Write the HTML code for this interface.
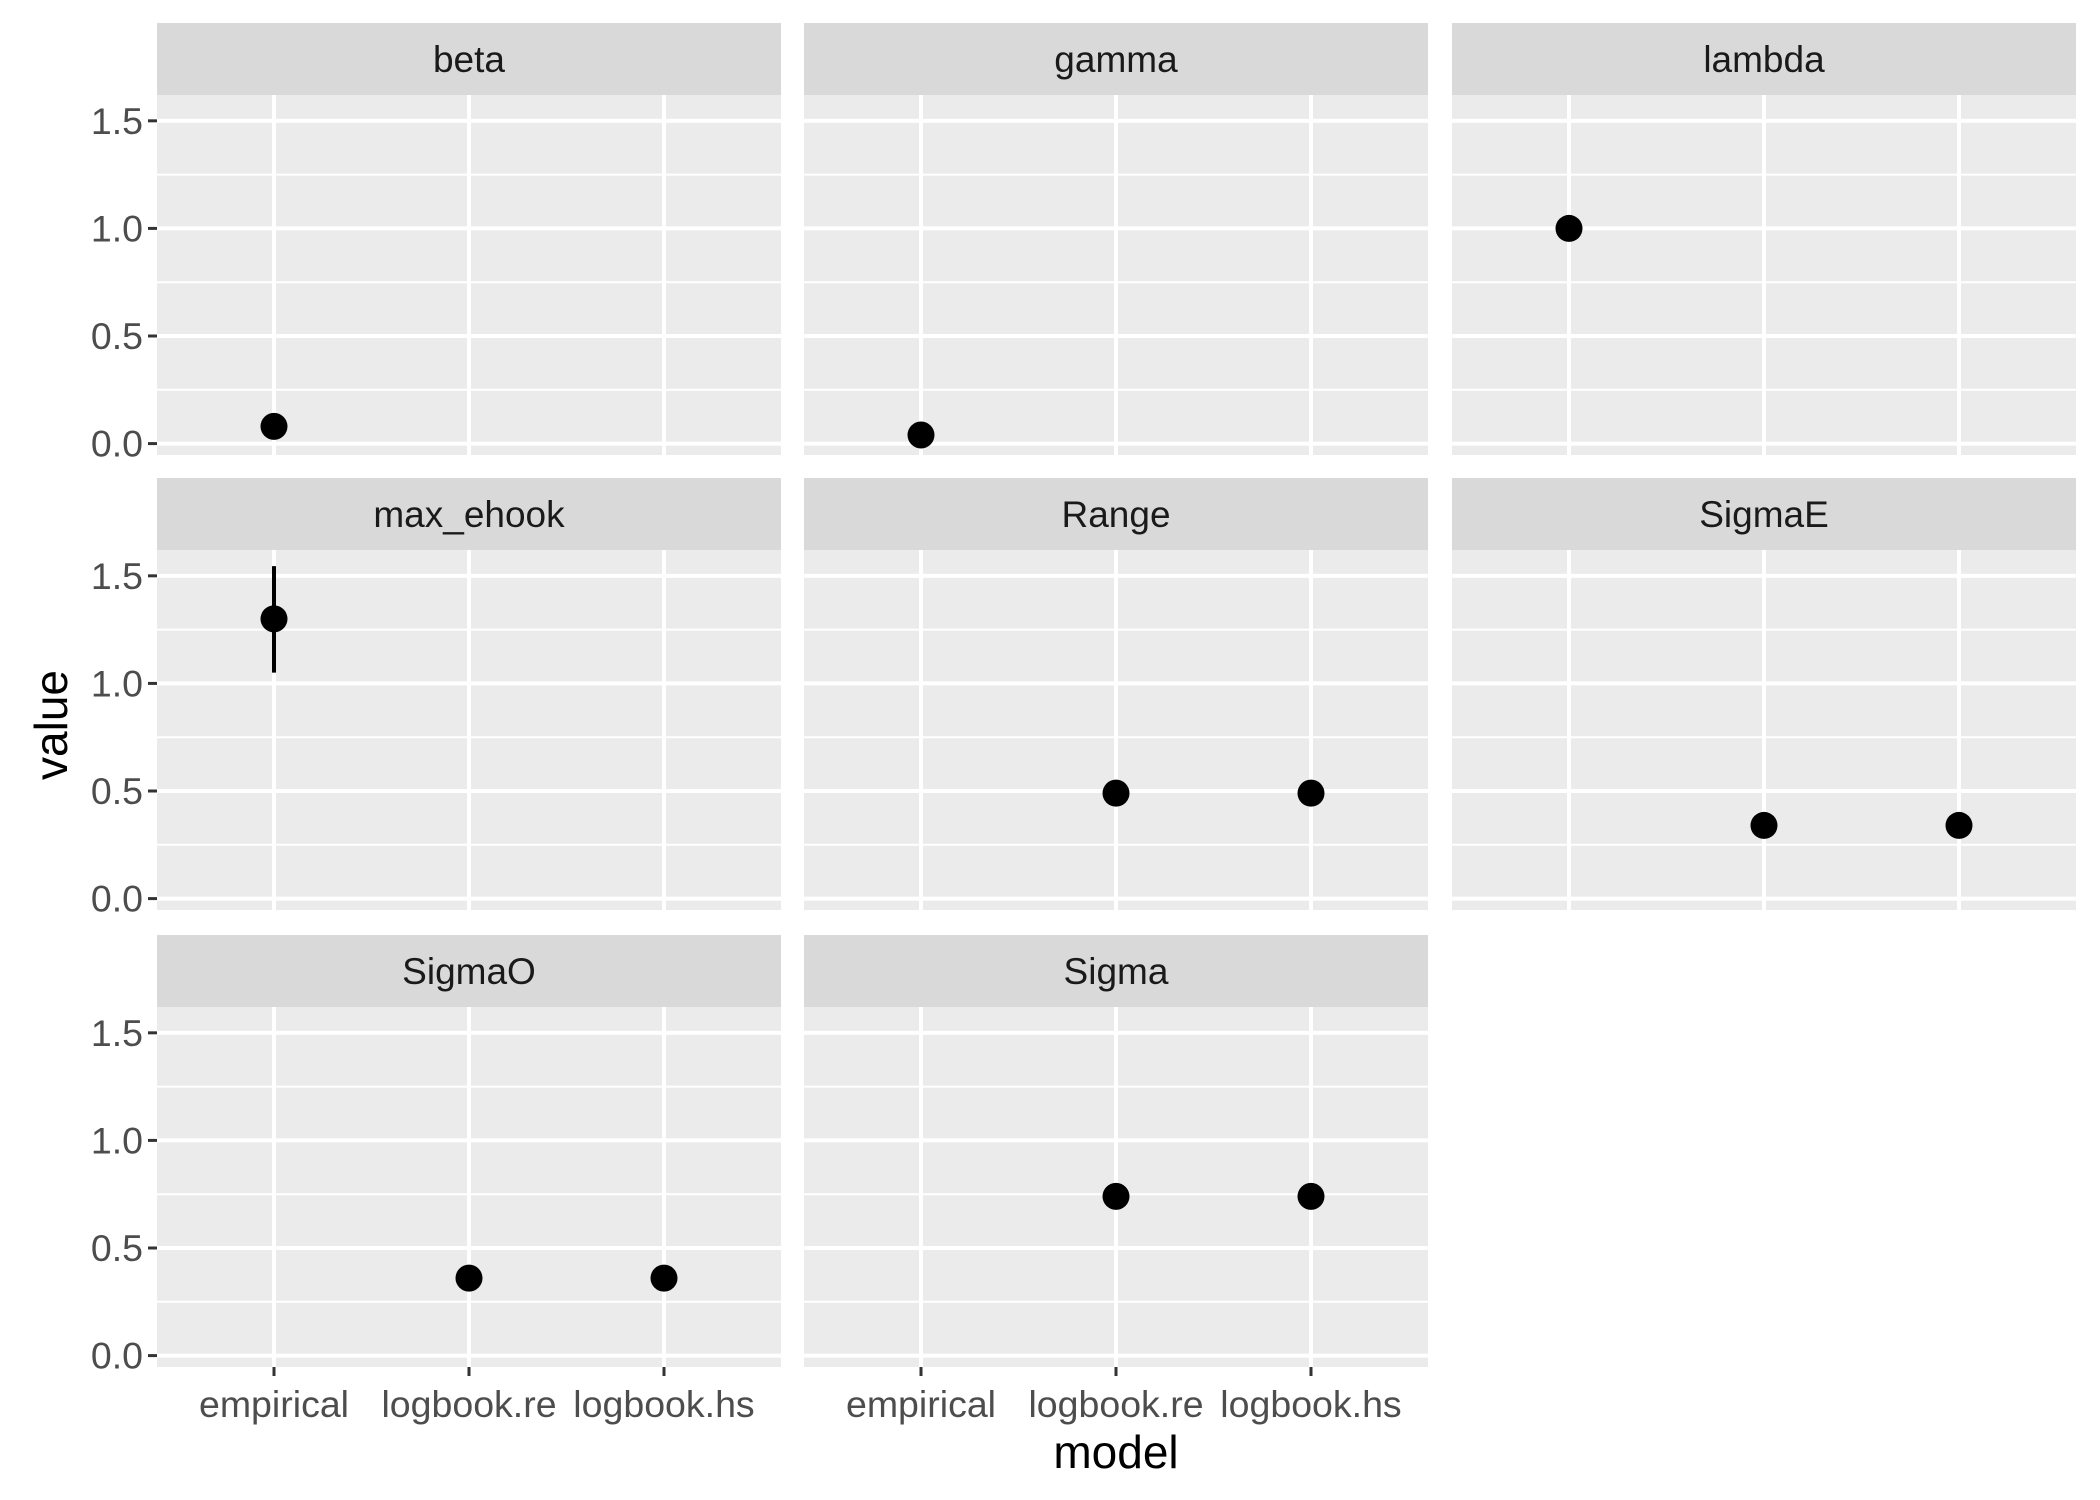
<!DOCTYPE html>
<html><head><meta charset="utf-8"><style>
html,body{margin:0;padding:0;background:#fff;}
svg{display:block;font-family:"Liberation Sans",Arial,sans-serif;}
</style></head><body>
<svg id="chart" width="2100" height="1500" viewBox="0 0 2100 1500" xmlns="http://www.w3.org/2000/svg"></svg>
<script>
const facets = ["beta","gamma","lambda","max_ehook","Range","SigmaE","SigmaO","Sigma"];
const categories = ["empirical","logbook.re","logbook.hs"];
const pointFacet = ["beta","gamma","lambda","max_ehook","Range","Range","SigmaE","SigmaE","SigmaO","SigmaO","Sigma","Sigma"];
const pointModel = ["empirical","empirical","empirical","empirical","logbook.re","logbook.hs","logbook.re","logbook.hs","logbook.re","logbook.hs","logbook.re","logbook.hs"];
const pointValue = [0.08,0.04,1.0,1.30,0.49,0.49,0.34,0.34,0.36,0.36,0.74,0.74];
const errFacet = ["max_ehook"];
const errModel = ["empirical"];
const errLow = [1.05];
const errHigh = [1.545];
const yTicks = [0,0.5,1.0,1.5];
const yTickLabels = ["0.0","0.5","1.0","1.5"];

const NS="http://www.w3.org/2000/svg";
const svg=document.getElementById('chart');
function mk(tag,attrs,parent){const e=document.createElementNS(NS,tag);for(const k in attrs)e.setAttribute(k,attrs[k]);(parent||svg).appendChild(e);return e;}
const colX=[157,804,1452], panelW=624;
const rowTop=[23,478,935], stripH=72, bodyH=360;
const yMin=-0.053, yMax=1.62;
function yScale(v,row){const top=rowTop[row]+stripH;return top+bodyH-(v-yMin)/(yMax-yMin)*bodyH;}
function xScale(cat,col){const i=categories.indexOf(cat);const step=panelW/3.2;return colX[col]+step*(0.6+i);}
function pos(f){const i=facets.indexOf(f);return {row:Math.floor(i/3),col:i%3};}

facets.forEach((f,i)=>{
  const {row,col}=pos(f);
  const g=mk('g',{});
  
  
  const x0=colX[col], top=rowTop[row]+stripH;
  const strip=mk('rect',{x:x0,y:rowTop[row],width:panelW,height:stripH,fill:'#D9D9D9'},g);
  
  
  const st=mk('text',{x:x0+panelW/2,y:rowTop[row]+stripH/2+13,'text-anchor':'middle','font-size':37,fill:'#1A1A1A'},g);
  st.textContent=f;
  
  
  const bg=mk('rect',{x:x0,y:top,width:panelW,height:bodyH,fill:'#EBEBEB'},g);
  
  
  for(let k=0;k<yTicks.length;k++){
    const v=yTicks[k]+0.25;
    if(v<yMax){const ym=yScale(v,row);const l=mk('line',{x1:x0,x2:x0+panelW,y1:ym,y2:ym,stroke:'#fff','stroke-width':2},g);
      }
    const y=yScale(yTicks[k],row);
    const l2=mk('line',{x1:x0,x2:x0+panelW,y1:y,y2:y,stroke:'#fff','stroke-width':4},g);
    
    
  }
  categories.forEach(c=>{const x=xScale(c,col);
    const l=mk('line',{x1:x,x2:x,y1:top,y2:top+bodyH,stroke:'#fff','stroke-width':4},g);
    });
  if(col===0){
    yTicks.forEach((t,k)=>{const y=yScale(t,row);
      const tk=mk('line',{x1:x0-9,x2:x0,y1:y,y2:y,stroke:'#333','stroke-width':3},g);
      
      const tl=mk('text',{x:x0-14,y:y+13,'text-anchor':'end','font-size':37.5,fill:'#4D4D4D'},g);
      tl.textContent=yTickLabels[k];
      });
  }
  if(row===2){
    categories.forEach(c=>{const x=xScale(c,col);const yb=top+bodyH;
      const tk=mk('line',{x1:x,x2:x,y1:yb,y2:yb+9,stroke:'#333','stroke-width':3},g);
      
      const tl=mk('text',{x:x,y:yb+50,'text-anchor':'middle','font-size':37.5,fill:'#4D4D4D'},g);
      tl.textContent=c;
      });
  }
});
errFacet.forEach((f,i)=>{const {row,col}=pos(f);const x=xScale(errModel[i],col);
  const l=mk('line',{x1:x,x2:x,y1:yScale(errHigh[i],row),y2:yScale(errLow[i],row),stroke:'#000','stroke-width':4});
  });
pointValue.forEach((v,i)=>{const {row,col}=pos(pointFacet[i]);
  const c=mk('circle',{cx:xScale(pointModel[i],col),cy:yScale(v,row),r:13.5,fill:'#000'});
  });
const xt=mk('text',{x:1116,y:1468,'text-anchor':'middle','font-size':46,fill:'#000'});
xt.textContent='model';


const yt=mk('text',{x:0,y:0,'text-anchor':'middle','font-size':46,fill:'#000',transform:'translate(67,725) rotate(-90)'});
yt.textContent='value';


</script>
</body></html>
